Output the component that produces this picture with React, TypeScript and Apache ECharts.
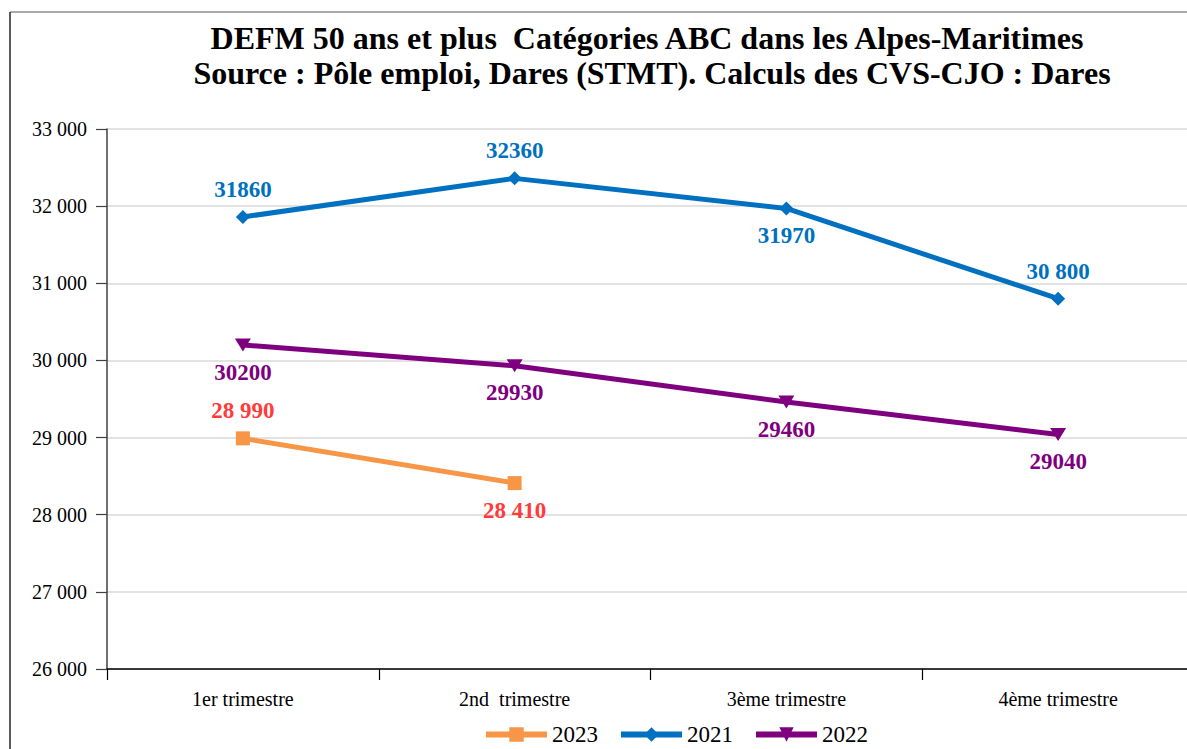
import React, { useEffect, useRef } from "react";
import * as echarts from "echarts";

const categories = ["1er trimestre", "2nd  trimestre", "3ème trimestre", "4ème trimestre"];
const values2021 = [31860, 32360, 31970, 30800];
const values2022 = [30200, 29930, 29460, 29040];
const values2023 = [28990, 28410];
const labels2021 = ["31860", "32360", "31970", "30 800"];
const labels2022 = ["30200", "29930", "29460", "29040"];
const labels2023 = ["28 990", "28 410"];
const yMin = 26000;
const yMax = 33000;
const yStep = 1000;
const titleLines = [
  "DEFM 50 ans et plus  Catégories ABC dans les Alpes-Maritimes",
  "Source : Pôle emploi, Dares (STMT). Calculs des CVS-CJO : Dares",
];

const FONT = "'Liberation Serif', 'Times New Roman', serif";

const pos2021 = ["top", "top", "bottom", "top"];
const pos2022 = ["bottom", "bottom", "bottom", "bottom"];
const pos2023 = ["top", "bottom"];

function fmtThousands(v: number): string {
  return String(v).replace(/\B(?=(\d{3})+(?!\d))/g, " ");
}

function makeData(values: number[], positions: string[]) {
  return values.map((v, i) => ({ value: v, label: { position: positions[i] } }));
}

export default function App() {
  const ref = useRef<HTMLDivElement>(null);

  useEffect(() => {
    if (!ref.current) return;
    const chart = echarts.init(ref.current, null, { renderer: "svg" });
    const labelBase = {
      show: true,
      fontFamily: FONT,
      fontWeight: "bold",
      fontSize: 23,
      distance: 9,
    };
    chart.setOption({
      animation: false,
      backgroundColor: "#ffffff",
      textStyle: { fontFamily: FONT },
      graphic: [
        { type: "line", shape: { x1: 10, y1: 12, x2: 1300, y2: 12 }, style: { stroke: "#8c8c8c", lineWidth: 1.5 } },
        { type: "line", shape: { x1: 10, y1: 12, x2: 10, y2: 800 }, style: { stroke: "#262626", lineWidth: 1.5 } },
        {
          type: "text",
          x: 647,
          y: 38,
          style: { text: titleLines[0], fontFamily: FONT, fontWeight: "bold", fontSize: 32, fill: "#000", textAlign: "center", textVerticalAlign: "middle" },
        },
        {
          type: "text",
          x: 652,
          y: 73,
          style: { text: titleLines[1], fontFamily: FONT, fontWeight: "bold", fontSize: 32, fill: "#000", textAlign: "center", textVerticalAlign: "middle" },
        },
      ],
      grid: { left: 107, top: 129, width: 1087, height: 540, containLabel: false },
      legend: {
        data: ["2023", "2021", "2022"],
        left: 478,
        top: 718,
        itemWidth: 61,
        itemHeight: 18,
        itemGap: 20,
        lineStyle: { width: 6 },
        textStyle: { fontFamily: FONT, fontSize: 23, color: "#000" },
      },
      xAxis: {
        type: "category",
        data: categories,
        boundaryGap: true,
        axisLine: { lineStyle: { color: "#000", width: 1.5 } },
        axisTick: { show: true, length: 11, lineStyle: { color: "#000", width: 1.2 } },
        axisLabel: { fontFamily: FONT, fontSize: 20, color: "#000", margin: 20 },
      },
      yAxis: {
        type: "value",
        min: yMin,
        max: yMax,
        interval: yStep,
        axisLine: { show: true, lineStyle: { color: "#404040", width: 1.5 } },
        axisTick: { show: true, length: 11, lineStyle: { color: "#404040", width: 1.2 } },
        splitLine: { lineStyle: { color: "#d9d9d9", width: 1.5 } },
        axisLabel: {
          fontFamily: FONT,
          fontSize: 20,
          color: "#000",
          margin: 20,
          formatter: (v: number) => fmtThousands(v),
        },
      },
      series: [
        {
          name: "2021",
          type: "line",
          data: makeData(values2021, pos2021),
          symbol: "diamond",
          symbolSize: 14,
          lineStyle: { color: "#0070c0", width: 5 },
          itemStyle: { color: "#0070c0" },
          label: { ...labelBase, color: "#0070c0", formatter: (p: any) => labels2021[p.dataIndex] },
        },
        {
          name: "2022",
          type: "line",
          data: makeData(values2022, pos2022),
          symbol: "triangle",
          symbolRotate: 180,
          symbolSize: [16, 13],
          lineStyle: { color: "#7f007f", width: 5 },
          itemStyle: { color: "#7f007f" },
          label: { ...labelBase, color: "#7f007f", formatter: (p: any) => labels2022[p.dataIndex] },
        },
        {
          name: "2023",
          type: "line",
          data: makeData(values2023, pos2023),
          symbol: "rect",
          symbolSize: 14,
          lineStyle: { color: "#f79646", width: 5 },
          itemStyle: { color: "#f79646" },
          label: { ...labelBase, color: "#ff3b3b", formatter: (p: any) => labels2023[p.dataIndex] },
        },
      ],
    });
    return () => chart.dispose();
  }, []);

  return (
    <div style={{ position: "fixed", left: 0, top: 0, width: 1187, height: 749, overflow: "hidden", background: "#fff" }}>
      <div ref={ref} style={{ width: 1200, height: 749 }} />
    </div>
  );
}
